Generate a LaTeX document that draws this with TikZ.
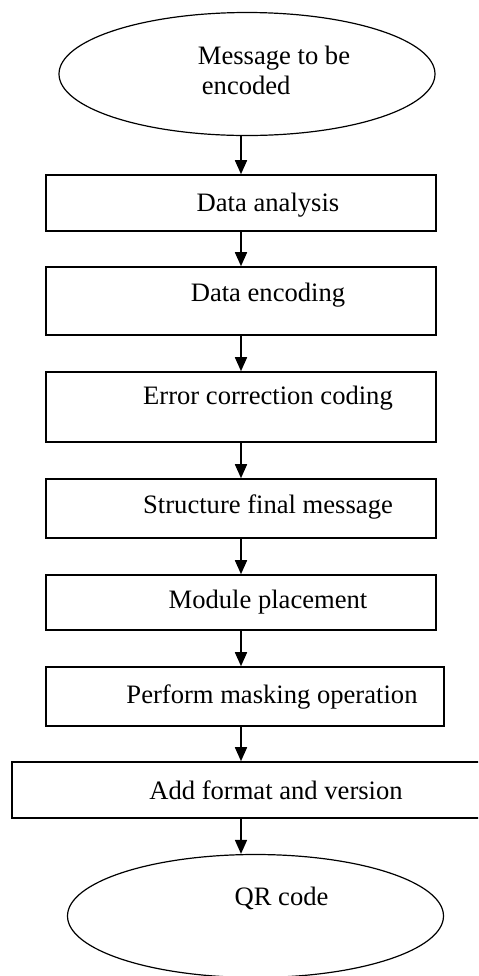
\documentclass[tikz,border=0pt]{standalone}
\usepackage{fontspec}
\setmainfont{Liberation Serif}
\usetikzlibrary{arrows.meta,shapes.geometric}

\begin{document}
\begin{tikzpicture}[x=0.5pt,y=-0.5pt,
	font=\fontsize{13.3}{15}\selectfont,
	>={Triangle[width=6pt,length=7pt]},
	stage/.style={draw,line width=.8pt,inner sep=0pt},
	term/.style={draw,ellipse,line width=.6pt,inner sep=0pt,minimum width=188pt,minimum height=61.5pt},
	flow/.style={->,line width=.85pt}]
	\clip(0,0) rectangle (478,976);
	\node[term,label={[xshift=13.5pt,yshift=2pt,align=left]center:Message to be\\\hspace{2pt}encoded}] (msg) at (247,74) {};
	\node[stage,minimum width=195pt,minimum height=28pt,label={[xshift=13.5pt,yshift=-1pt]center:Data analysis}] (analysis) at (241,203) {};
	\node[stage,minimum width=195pt,minimum height=34pt,label={[xshift=13.5pt,yshift=3pt]center:Data encoding}] (encoding) at (241,301) {};
	\node[stage,minimum width=195pt,minimum height=35pt,label={[xshift=13.5pt,yshift=4.5pt]center:Error correction coding}] (ecc) at (241,407) {};
	\node[stage,minimum width=195pt,minimum height=29.5pt,label={[xshift=13.5pt,yshift=1pt]center:Structure final message}] (structure) at (241,508.5) {};
	\node[stage,minimum width=195pt,minimum height=27.5pt,label={[xshift=13.5pt]center:Module placement}] (placement) at (241,602.5) {};
	\node[stage,minimum width=199pt,minimum height=29.5pt,label={[xshift=13.5pt]center:Perform masking operation}] (masking) at (245,696.5) {};
	\node[stage,minimum width=237pt,minimum height=28pt,label={[xshift=13.5pt]center:Add format and version}] (format) at (249,790) {};
	\node[term,label={[xshift=13pt,yshift=9pt]center:QR code}] (qr) at (255.5,916) {};
	\draw[flow](msg.south -| analysis.north)--(analysis.north);
	\draw[flow](analysis)--(encoding);
	\draw[flow](encoding)--(ecc);
	\draw[flow](ecc)--(structure);
	\draw[flow](structure)--(placement);
	\draw[flow](placement.south)--(placement.south |- masking.north);
	\draw[flow](placement.south |- masking.south)--(placement.south |- format.north);
	\draw[flow](placement.south |- format.south)--(placement.south |- qr.north);
\end{tikzpicture}
\end{document}
